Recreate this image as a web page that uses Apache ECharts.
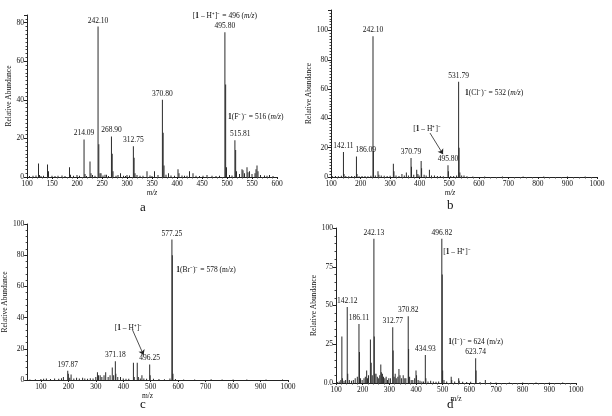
<!DOCTYPE html>
<html><head><meta charset="utf-8">
<script src="https://cdn.jsdelivr.net/npm/echarts@6/dist/echarts.min.js"></script>
<style>html,body{margin:0;padding:0;background:#fff}#c{width:612px;height:416px}</style>
</head><body><div id="c"></div>
<script>
// ---------- DATA ----------
const aPeaks = [[105,.5],[112,.6],[118,.8],[123,7],[125,1],[128,.5],[133,.6],[141,6.5],[143,3],[150,.7],[156,.5],[162,.6],[170,.8],[176,.5],[185,5],[187,1.2],[193,.6],[200,1],[205,.7],[214.09,19.5],[216,1.5],[219,.5],[226,8],[228,2],[231,1],[236,.6],[242.10,78],[243.6,17],[246,2],[248,2],[252,.8],[256,1.2],[259,1.2],[263,.5],[268.90,21],[270.4,12],[272,3],[278,.7],[282,1],[287,2],[293,.6],[297,.5],[300,1],[305,.8],[312.75,16],[314.2,10],[316,2],[320,1],[326,.6],[332,.7],[340,3],[346,.8],[350,.5],[355,3],[362,1],[370.80,40],[372.3,23],[374,6],[378,1.2],[383,2],[388,.8],[395,.6],[402,4],[404,2],[410,.8],[415,.6],[420,.7],[425,3],[432,2],[438,.6],[445,.5],[452,.7],[460,1],[470,.6],[478,.5],[485,.7],[495.80,75],[497.3,48],[499,5],[505,1],[510,.8],[515.81,19],[517.3,14],[519,3],[525,1.5],[530,4],[532,3.5],[535,2],[540,5],[542,2.5],[545,3],[550,1.5],[556,2],[558,4],[560,6],[562,3],[567,1],[575,.8],[580,.6],[585,1],[592,.5]];
const aLabeled = [214.09,242.10,268.90,312.75,370.80,495.80,515.81];

const bPeaks = [[105,.5],[115,.6],[125,.5],[135,.8],[142.11,17],[144,2],[150,.6],[160,.5],[170,.7],[180,.6],[186.09,14],[188,2],[195,.5],[205,.6],[215,.7],[225,.5],[235,.8],[242.10,96],[243.5,18],[250,1],[259,4],[262,1.5],[270,1],[280,.8],[290,.6],[300,.8],[311,9],[313,4],[320,1],[330,.7],[340,2],[348,1],[355,3],[362,1],[370.79,13],[372.3,7],[380,1.5],[390,5],[394,2],[398,1],[405,11],[406.5,6],[415,1.5],[422,1],[433,5],[440,1],[450,1],[460,.7],[470,.6],[480,.5],[495.80,8],[497.3,4],[505,.6],[515,.7],[525,1],[531.79,65],[533.3,20],[536,3],[542,1],[550,1],[560,.5],[580,.4],[620,.3],[680,.3],[750,.4],[820,.3],[900,.3],[960,.3]];
const bLabeled = [142.11,186.09,242.10,370.79,495.80,531.79];

const cPeaks = [[60,.4],[80,.5],[100,.6],[110,.8],[120,1],[135,.6],[150,1],[165,.8],[175,1.2],[182,2],[197.87,6],[200,4],[205,1.5],[210,3.5],[220,1],[230,1.5],[240,1],[252,1.5],[260,1],[270,.8],[280,1.2],[290,1],[300,2],[306,5],[310,3],[316,3],[322,2],[330,3],[336,5],[345,2],[352,3],[360,8],[365,3],[371.18,12],[373,4],[380,2],[390,2],[400,1],[410,.8],[420,.8],[437,11],[440,2],[451,11],[455,2],[462,1],[468,3],[475,1],[485,.8],[496.25,10],[498,3],[510,.8],[530,.6],[550,.5],[570,1],[577.25,90],[578.7,80],[581,4],[590,.6],[620,.4],[660,.4],[720,.5],[760,.3],[800,.3],[850,.3],[920,.3],[980,.3]];
const cLabeled = [197.87,371.18,496.25,577.25];

const dPeaks = [[105,.6],[112,1],[118,2],[122,30],[124,3],[130,1.5],[136,2],[142.12,49],[144,6],[150,2],[158,1.5],[165,2],[172,3],[180,4],[186.11,38],[188,20],[192,3],[198,2],[205,3],[210,4],[215,8],[218,3],[222,5],[229,28],[232,13],[236,5],[242.13,93],[243.5,30],[246,6],[250,6],[255,4],[260,3],[264,5],[268,12],[270,7],[274,6],[278,4],[283,3],[288,4],[293,2],[298,3],[304,3],[312.77,36],[314.3,21],[318,4],[322,6],[326,3],[332,4],[336,9],[340,5],[346,3],[352,5],[358,3],[362,3],[370.82,43],[372.3,22],[376,4],[382,2],[388,2],[395,3],[400,8],[402,5],[408,2],[415,1.5],[422,1],[428,1],[434.93,18],[437,3],[445,1],[455,1.5],[465,1],[475,.8],[485,1],[496.82,93],[498.3,70],[500,8],[505,2],[515,1],[532,4],[534,2],[545,1],[560,3],[562,1.5],[575,.8],[590,.6],[605,.8],[623.74,16],[625.3,8],[640,.6],[660,2],[680,.5],[700,.4],[750,.4],[800,.4],[850,.3],[900,.3],[950,.3]];
const dLabeled = [142.12,186.11,242.13,312.77,370.82,434.93,496.82,623.74];

const xTicksC = [100,200,300,400,500,600,700,800,900,1000];

// ---------- STYLE ----------
const F = 'Liberation Serif';
const TXT = '#111';
const FS = 7.5;
const rich = {
  b: {fontWeight: 'bold', fontFamily: F, fontSize: FS, color: TXT},
  i: {fontStyle: 'italic', fontFamily: F, fontSize: FS, color: TXT}
};

function build(peaks, labeled, notes, labelExtra) {
  return peaks.map(p => {
    const it = {value: [p[0], p[1]]};
    if (labeled.indexOf(p[0]) >= 0) {
      it.label = Object.assign({show: true}, (labelExtra && labelExtra[p[0]]) || {});
      if (notes && notes[p[0]]) it.note = notes[p[0]];
    }
    return it;
  });
}

function ann(coord, text, pos) {
  return {coord: coord, symbol: 'circle', symbolSize: 0,
    label: {show: true, position: pos || 'right', distance: 0, formatter: text,
      fontFamily: F, fontSize: FS, color: TXT, rich: rich}};
}

function series(idx, data, extra) {
  return Object.assign({
    type: 'bar', xAxisIndex: idx, yAxisIndex: idx, barWidth: 1, barGap: '-100%',
    itemStyle: {color: '#2b2b2b'}, silent: true, animation: false,
    label: {show: false, position: 'top', distance: 1, fontFamily: F, fontSize: FS, color: TXT,
      lineHeight: 10, rich: rich,
      formatter: p => (p.data.note ? p.data.note + '\n' : '') + p.value[0].toFixed(2)},
    data: data
  }, extra || {});
}

function xAx(idx, min, max, interval, custom, italic, namePad, nameGap) {
  const ax = {type: 'value', gridIndex: idx, min: min, max: max,
    name: 'm/z', nameLocation: 'middle', nameGap: nameGap || 12,
    nameTextStyle: {fontFamily: F, fontSize: FS, color: TXT, fontStyle: italic ? 'italic' : 'normal', padding: namePad || 0},
    axisLine: {lineStyle: {color: '#222', width: 1}},
    axisTick: {length: 2, lineStyle: {color: '#222'}},
    minorTick: {show: true, splitNumber: 5, length: 1.5, lineStyle: {color: '#444'}},
    axisLabel: {fontFamily: F, fontSize: FS, color: TXT, margin: 3, formatter: v => String(v)},
    splitLine: {show: false}};
  if (custom) {
    ax.axisTick.customValues = custom;
    ax.axisLabel.customValues = custom;
    ax.minorTick.show = false;
  } else {
    ax.interval = interval;
  }
  return ax;
}
function yAx(idx, max, interval, gap, minorSplit, showMax, fmt) {
  return {type: 'value', gridIndex: idx, min: 0, max: max, interval: interval,
    name: 'Relative Abundance', nameLocation: 'middle', nameGap: gap, nameRotate: 90,
    nameTextStyle: {fontFamily: F, fontSize: FS, color: TXT},
    axisLine: {show: true, lineStyle: {color: '#222', width: 1}},
    axisTick: {show: true, length: 3, lineStyle: {color: '#222'}},
    minorTick: {show: true, splitNumber: minorSplit, length: 1.5, lineStyle: {color: '#444'}},
    axisLabel: {fontFamily: F, fontSize: FS, color: TXT, margin: 3, showMaxLabel: showMax,
      formatter: fmt || (v => String(v))},
    splitLine: {show: false}};
}

const chart = echarts.init(document.getElementById('c'), null, {renderer: 'canvas'});
chart.setOption({
  backgroundColor: '#fff',
  animation: false,
  grid: [
    {left: 27, top: 15, width: 250, height: 162},
    {left: 331, top: 10, width: 266, height: 167},
    {left: 26, top: 224, width: 262, height: 156},
    {left: 336, top: 228, width: 240, height: 155}
  ],
  xAxis: [
    xAx(0, 100, 600, 50, null, true),
    xAx(1, 100, 1000, 100, null, true, [0, 28, 0, 0]),
    xAx(2, 50, 1000, 100, xTicksC, false, [0, 20, 0, 0]),
    xAx(3, 100, 1000, 100, null, false, null, 9)
  ],
  yAxis: [
    yAx(0, 84, 20, 12, 10, false),
    yAx(1, 114, 20, 16, 10, false),
    yAx(2, 100, 20, 14, 5, true),
    yAx(3, 100, 25, 15, 5, true, v => v === 0 ? '0.0' : String(v))
  ],
  series: [
    series(0, build(aPeaks, aLabeled, {495.80: '[{b|1} – H⁺]⁻ = 496 ({i|m/z})'},
      {515.81: {align: 'left', offset: [-5, 0]}}), {
      markPoint: {silent: true, data: [ann([502, 31], '{b|1}(F⁻)⁻ = 516 ({i|m/z})')]}
    }),
    series(1, build(bPeaks, bLabeled, null,
      {186.09: {align: 'left', offset: [-1, 0]}}), {
      markPoint: {silent: true, data: [
        ann([553, 57], '{b|1}(Cl⁻)⁻ = 532 ({i|m/z})'),
        ann([425, 33], '[{b|1} – H⁺]⁻', 'inside')]},
      markLine: {silent: true, symbol: ['none', 'arrow'], symbolSize: 5,
        lineStyle: {color: '#222', width: 0.8, type: 'solid'}, label: {show: false},
        data: [[{coord: [435, 30]}, {coord: [479, 15.6]}]]}
    }),
    series(2, build(cPeaks, cLabeled), {
      markPoint: {silent: true, data: [
        ann([593, 70.5], '{b|1}(Br⁻)⁻ = 578 (m/z)'),
        ann([419, 33], '[{b|1} – H⁺]⁻', 'inside')]},
      markLine: {silent: true, symbol: ['none', 'arrow'], symbolSize: 5,
        lineStyle: {color: '#222', width: 0.8, type: 'solid'}, label: {show: false},
        data: [[{coord: [434, 32]}, {coord: [474, 16]}]]}
    }),
    series(3, build(dPeaks, dLabeled, {623.74: '{b|1}(I⁻)⁻ = 624 (m/z)'}), {
      markPoint: {silent: true, data: [ann([502, 84.5], '[{b|1} – H⁺]⁻')]}
    })
  ],
  graphic: [
    {type: 'text', left: 140, top: 201, style: {text: 'a', font: '13px "Liberation Serif"', fill: TXT}},
    {type: 'text', left: 447, top: 199, style: {text: 'b', font: '13px "Liberation Serif"', fill: TXT}},
    {type: 'text', left: 140, top: 398, style: {text: 'c', font: '13px "Liberation Serif"', fill: TXT}},
    {type: 'text', left: 447, top: 398, style: {text: 'd', font: '13px "Liberation Serif"', fill: TXT}}
  ]
});
</script></body></html>
